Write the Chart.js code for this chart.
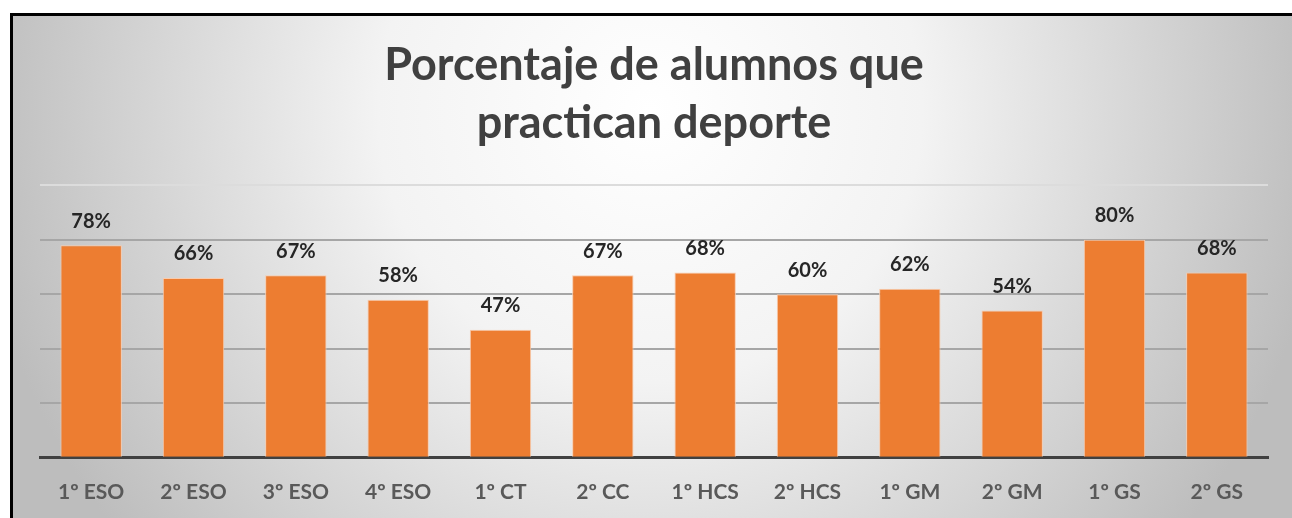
<!DOCTYPE html>
<html>
<head>
<meta charset="utf-8">
<script src="https://cdn.jsdelivr.net/npm/chart.js@4/dist/chart.umd.min.js"></script>
<style>
  html, body { margin: 0; padding: 0; background: #fff; overflow: hidden; }
  #wrap { width: 1292px; height: 518px; }
  canvas { display: block; }
</style>
</head>
<body>
<div id="wrap"><canvas id="myChart" width="1292" height="518"></canvas></div>
<script>
const cursos = ['1º ESO', '2º ESO', '3º ESO', '4º ESO', '1º CT', '2º CC', '1º HCS', '2º HCS', '1º GM', '2º GM', '1º GS', '2º GS']
const porcentajes = [78, 66, 67, 58, 47, 67, 68, 60, 62, 54, 80, 68]
const titulo = ['Porcentaje de alumnos que', 'practican deporte']

// fondo degradado y marco negro
const fondo = {
    id: 'fondo',
    beforeDraw(chart) {
        const c = chart.ctx
        const w = chart.width, h = chart.height
        c.save()
        c.fillStyle = '#ffffff'
        c.fillRect(0, 0, w, h)
        const g = c.createRadialGradient(650, 110, 0, 650, 110, 680)
        g.addColorStop(0, '#ffffff')
        g.addColorStop(0.4, '#f3f3f3')
        g.addColorStop(1, '#bdbdbd')
        c.fillStyle = g
        c.fillRect(12, 15, w, h)
        c.strokeStyle = '#000000'
        c.lineWidth = 3
        c.beginPath()
        c.moveTo(11.5, h + 5)
        c.lineTo(11.5, 14.5)
        c.lineTo(w + 5, 14.5)
        c.stroke()
        c.restore()
    }
}

// etiquetas de porcentaje encima de cada barra
const etiquetas = {
    id: 'etiquetas',
    afterDatasetsDraw(chart) {
        const c = chart.ctx
        const meta = chart.getDatasetMeta(0)
        c.save()
        c.font = 'bold 20px Lato'
        c.fillStyle = '#262626'
        c.textAlign = 'center'
        c.textBaseline = 'bottom'
        meta.data.forEach((bar, i) => {
            c.fillText(porcentajes[i] + '%', bar.x, bar.y - 14)
        })
        c.restore()
    }
}

const ctx = document.getElementById('myChart').getContext('2d');
const myChart = new Chart(ctx, {
    type: 'bar',
    data: {
        labels: cursos,
        datasets: [{
            data: porcentajes,
            backgroundColor: '#ed7d31',
            borderColor: '#f8cbad',
            borderWidth: 1,
            categoryPercentage: 1,
            barPercentage: 0.6
        }]
    },
    options: {
        responsive: false,
        animation: false,
        layout: { padding: { left: 40, right: 24, top: 20, bottom: -9 } },
        plugins: {
            legend: { display: false },
            tooltip: { enabled: false },
            title: {
                display: true,
                text: titulo,
                color: '#404040',
                font: { family: 'Lato', size: 45, weight: 'bold', lineHeight: 1.28 },
                padding: { top: 17, bottom: 33 }
            }
        },
        scales: {
            x: {
                grid: { display: false, drawTicks: false },
                border: { display: true, color: '#404040', width: 3 },
                ticks: {
                    color: '#595959',
                    padding: 22,
                    font: { family: 'Lato', size: 21, weight: 'bold' }
                }
            },
            y: {
                min: 0,
                max: 100,
                ticks: { display: false, stepSize: 20 },
                border: { display: false },
                grid: {
                    drawTicks: false,
                    lineWidth: 2,
                    color: c => c.tick.value === 0 ? 'rgba(0,0,0,0)' : (c.tick.value === 100 ? '#dcdcdc' : '#a6a6a6')
                }
            }
        }
    },
    plugins: [fondo, etiquetas]
});
</script>
</body>
</html>
